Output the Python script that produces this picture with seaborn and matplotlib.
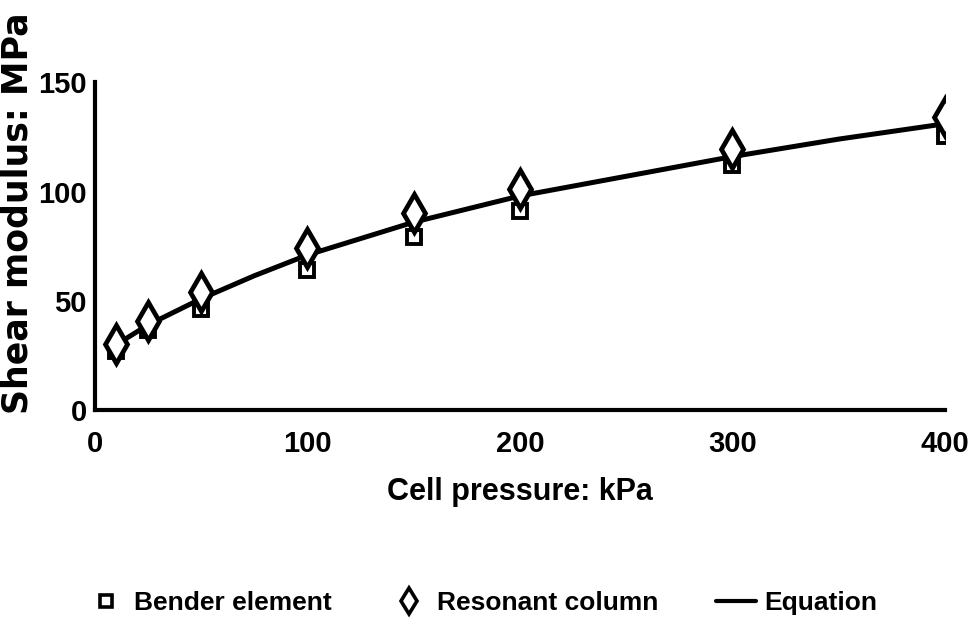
import matplotlib
matplotlib.use("Agg")
import matplotlib.pyplot as plt
from matplotlib.lines import Line2D
import numpy as np
import pandas as pd
import seaborn as sns

# Cell pressure (kPa) at each test stage
pressure = [10, 25, 50, 100, 150, 200, 300, 400]
# Shear modulus (MPa) from the two test methods
bender_element = [27, 36.5, 46.5, 64, 79, 91, 112, 125.5]
resonant_column = [30.5, 41, 54, 74, 90, 101, 119.5, 134]

# Fitted equation curve
eq_pressure = [10, 25, 50, 75, 100, 150, 200, 250, 300, 350, 400]
eq_modulus = [30, 39, 51, 61.5, 71, 86, 98, 107, 116, 124, 131]

x_ticks = [0, 100, 200, 300, 400]
y_ticks = [0, 50, 100, 150]

sns.set_theme(style="white")
plt.rcParams["font.family"] = ["Liberation Sans", "DejaVu Sans"]
plt.rcParams["text.color"] = "black"
plt.rcParams["axes.labelcolor"] = "black"
plt.rcParams["xtick.color"] = "black"
plt.rcParams["ytick.color"] = "black"

fig = plt.figure(figsize=(9.69, 6.33), dpi=100)
ax = fig.add_axes([0.098, 0.352, 0.877, 0.518])

eq_df = pd.DataFrame({"p": eq_pressure, "G": eq_modulus})
be_df = pd.DataFrame({"p": pressure, "G": bender_element})
rc_df = pd.DataFrame({"p": pressure, "G": resonant_column})

sns.lineplot(data=eq_df, x="p", y="G", ax=ax, color="black", linewidth=3.6, zorder=2)
ax.plot(be_df["p"], be_df["G"], linestyle="none", marker="s", markersize=10,
        markerfacecolor="white", markeredgecolor="black", markeredgewidth=2.8, zorder=3)
ax.plot(rc_df["p"], rc_df["G"], linestyle="none", marker="d", markersize=19,
        markerfacecolor="white", markeredgecolor="black", markeredgewidth=3.4, zorder=4)

ax.set_xlim(0, 400)
ax.set_ylim(0, 150)
ax.set_xticks(x_ticks)
ax.set_yticks(y_ticks)
ax.set_xticklabels([str(v) for v in x_ticks], fontsize=21, fontweight="bold")
ax.set_yticklabels([str(v) for v in y_ticks], fontsize=21, fontweight="bold")
ax.tick_params(axis="both", direction="in", length=12, width=2.5, color="black", pad=6)
ax.tick_params(axis="x", pad=14)

for side in ["top", "right"]:
    ax.spines[side].set_visible(False)
for side in ["left", "bottom"]:
    ax.spines[side].set_color("black")
    ax.spines[side].set_linewidth(3)

ax.set_xlabel("Cell pressure: kPa", fontsize=22, fontweight="bold", labelpad=14)
ax.set_ylabel("Shear modulus: MPa", fontsize=25, fontweight="bold",
              family="DejaVu Sans")
ax.yaxis.set_label_coords(-0.071, 0.6)

handles = [
    Line2D([], [], linestyle="none", marker="s", markersize=9, markerfacecolor="white",
           markeredgecolor="black", markeredgewidth=2.6),
    Line2D([], [], linestyle="none", marker="d", markersize=13, markerfacecolor="white",
           markeredgecolor="black", markeredgewidth=2.6),
    Line2D([], [], color="black", linewidth=3),
]
labels = ["Bender element", "Resonant column", "Equation"]
fig.legend(handles, labels, loc="center", bbox_to_anchor=(0.497, 0.047), ncol=3,
           frameon=False, prop={"size": 19, "weight": "bold"},
           columnspacing=2.2, handletextpad=0.3, handlelength=1.5)

fig.savefig("out.png", dpi=100, facecolor="white")
